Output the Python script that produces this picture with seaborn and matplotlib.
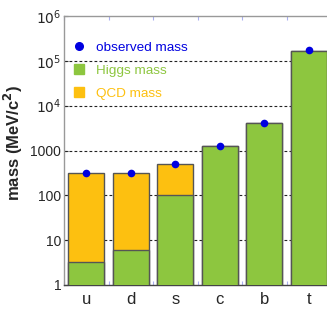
import numpy as np
import pandas as pd
import matplotlib
matplotlib.use('Agg')
import matplotlib.pyplot as plt
import matplotlib.ticker as mticker
from matplotlib.lines import Line2D
import seaborn as sns

quarks = ['u', 'd', 's', 'c', 'b', 't']
higgs_mass = [3.2, 5.9, 100, 1250, 4050, 167000]
total_mass = [310, 310, 490, 1250, 4050, 167000]
observed_mass = [318, 318, 490, 1275, 4180, 173000]

green = '#8dc63f'
orange = '#fdc010'
blue = '#0000e0'

sns.set_style('white')
plt.rcParams['font.family'] = ['Liberation Sans', 'DejaVu Sans']

df = pd.DataFrame({'quark': quarks, 'higgs': higgs_mass,
                   'total': total_mass, 'observed': observed_mass})

fig = plt.figure(figsize=(3.27, 3.11), dpi=100)
ax = fig.add_axes([64/327, 26/311, 267/327, 269/311])
ax.set_yscale('log')

sns.barplot(data=df, x='quark', y='total', color=orange, saturation=1,
            width=0.8, edgecolor='#555555', linewidth=1, ax=ax, zorder=2)
sns.barplot(data=df, x='quark', y='higgs', color=green, saturation=1,
            width=0.8, edgecolor='#555555', linewidth=1, ax=ax, zorder=3)
sns.stripplot(data=df, x='quark', y='observed', color=blue, jitter=False,
              size=5.5, ax=ax, zorder=5)

ax.set_xlim(-0.5, 5.5)
ax.set_ylim(1, 1e6)
for v in [10, 100, 1000, 1e4, 1e5]:
    ax.axhline(v, color='#222222', ls=(0, (2.5, 2)), lw=0.8, zorder=1)

def fmt(v, pos):
    e = int(round(np.log10(v)))
    if e <= 3:
        return str(int(round(v)))
    return r'$10^{%d}$' % e

ax.yaxis.set_major_locator(mticker.FixedLocator([1, 10, 100, 1000, 1e4, 1e5, 1e6]))
ax.yaxis.set_major_formatter(mticker.FuncFormatter(fmt))
ax.yaxis.set_minor_locator(mticker.NullLocator())
ax.tick_params(axis='y', direction='in', length=3, width=0.8, color='#333333',
               labelsize=10, pad=2, left=True)
ax.set_xticks(range(len(quarks)))
ax.set_xticks(np.arange(-0.5, 6, 1), minor=True)
ax.tick_params(axis='x', which='major', length=0, labelsize=12, pad=5)
ax.tick_params(axis='x', which='minor', direction='in', length=3, width=0.8,
               color='#aab0f0', top=True, bottom=True)

ax.set_xlabel('')
ax.set_ylabel(r'mass (MeV/c$^\mathbf{2}$)', fontsize=12, fontweight='bold')
ax.yaxis.set_label_coords(-0.146, 0.528)

for s in ['left', 'top']:
    ax.spines[s].set_color('#999999')
ax.spines['bottom'].set_color('#444444')
ax.spines['right'].set_visible(False)
for s in ax.spines.values():
    s.set_linewidth(1)

handles = [
    Line2D([], [], marker='o', color=blue, ls='none', markersize=5.5),
    Line2D([], [], marker='s', color=green, ls='none', markersize=7),
    Line2D([], [], marker='s', color=orange, ls='none', markersize=7),
]
leg = ax.legend(handles, ['observed mass', 'Higgs mass', 'QCD mass'],
                loc='upper left', bbox_to_anchor=(-0.008, 0.95), frameon=False,
                fontsize=9.7, handlelength=0.8, handletextpad=0.8, labelspacing=0.78)
for t, c in zip(leg.get_texts(), [blue, green, orange]):
    t.set_color(c)

fig.savefig('out.png', dpi=100)
